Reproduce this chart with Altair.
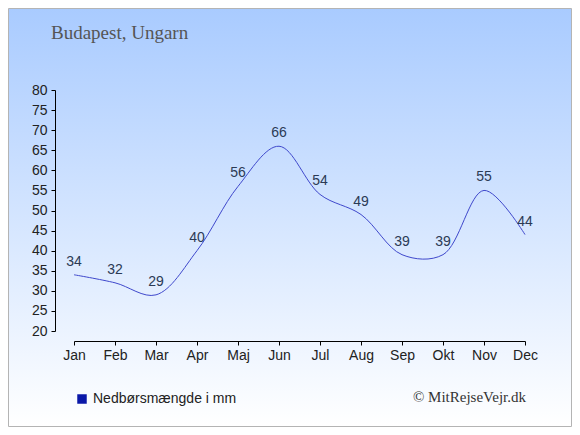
import altair as alt
import pandas as pd

months = ["Jan", "Feb", "Mar", "Apr", "Maj", "Jun", "Jul", "Aug", "Sep", "Okt", "Nov", "Dec"]
precip = [34, 32, 29, 40, 56, 66, 54, 49, 39, 39, 55, 44]
series_name = "Nedbørsmængde i mm"
title_text = "Budapest, Ungarn"
credit_text = "© MitRejseVejr.dk"
y_ticks = list(range(20, 85, 5))

df = pd.DataFrame({"month": months, "value": precip, "series": [series_name] * len(months)})
one = pd.DataFrame({"k": [0]})

W, H = 451, 241
PL, PT = 66, 82
TOTW, TOTH = 564, 419

xenc = alt.X("month:N", sort=months, scale=alt.Scale(type="point", padding=0),
             axis=alt.Axis(title=None, labelAngle=0, offset=10, tickSize=4, labelPadding=3,
                           domainColor="#000", tickColor="#000", labelColor="#222",
                           labelFont="Liberation Sans", labelFontSize=14, grid=False,
                           labelOverlap=False, zindex=2))
yenc = alt.Y("value:Q", scale=alt.Scale(domain=[20, 80], nice=False, zero=False),
             axis=alt.Axis(title=None, values=y_ticks, offset=19, tickSize=4, labelPadding=4,
                           domainColor="#000", tickColor="#000", labelColor="#222",
                           labelFont="Liberation Sans", labelFontSize=14, grid=False,
                           labelOverlap=False, labelFlush=False, zindex=2))

bg = alt.Chart(one).mark_rect(
    color=alt.Gradient(gradient="linear", x1=0, y1=0, x2=0, y2=1,
                       stops=[alt.GradientStop(color="#a9cbff", offset=0),
                              alt.GradientStop(color="#ffffff", offset=1)]),
    stroke="#b4b4b4", strokeWidth=1,
).encode(x=alt.value(-PL + 0.5), x2=alt.value(TOTW - PL - 0.5),
         y=alt.value(-PT + 0.5), y2=alt.value(TOTH - PT - 0.5))

line = alt.Chart(df).mark_line(interpolate="catmull-rom", strokeWidth=1).encode(
    x=xenc, y=yenc,
    color=alt.Color("series:N", scale=alt.Scale(range=["#3f48cc"]),
                    legend=alt.Legend(title=None, orient="none", legendX=1, legendY=302,
                                      symbolType="square", symbolSize=90,
                                      symbolFillColor="#0a18a8", symbolStrokeColor="#0a18a8",
                                      symbolStrokeWidth=0, labelFont="Liberation Sans",
                                      labelFontSize=14, labelColor="#222", padding=0,
                                      labelOffset=4)),
)

labels = alt.Chart(df).mark_text(dy=-13, baseline="middle", font="Liberation Sans",
                                 fontSize=14, color="#2b3a55").encode(
    x=xenc, y=yenc, text="value:Q")

title = alt.Chart(one).mark_text(align="left", baseline="alphabetic", font="Liberation Serif",
                                 fontSize=19, color="#555555").encode(
    x=alt.value(43 - PL), y=alt.value(31 - PT), text=alt.value(title_text))

credit = alt.Chart(one).mark_text(align="right", baseline="alphabetic", font="Liberation Serif",
                                  fontSize=15, color="#333333").encode(
    x=alt.value(518 - PL), y=alt.value(394 - PT), text=alt.value(credit_text))

chart = alt.layer(bg, line, labels, title, credit).properties(
    width=W, height=H,
    padding={"left": PL, "top": PT, "right": TOTW - PL - W, "bottom": TOTH - PT - H},
    autosize=alt.AutoSizeParams(type="none"),
).configure_view(stroke=None)

chart.save("out.html", embed_options={"renderer": "svg", "actions": False})
